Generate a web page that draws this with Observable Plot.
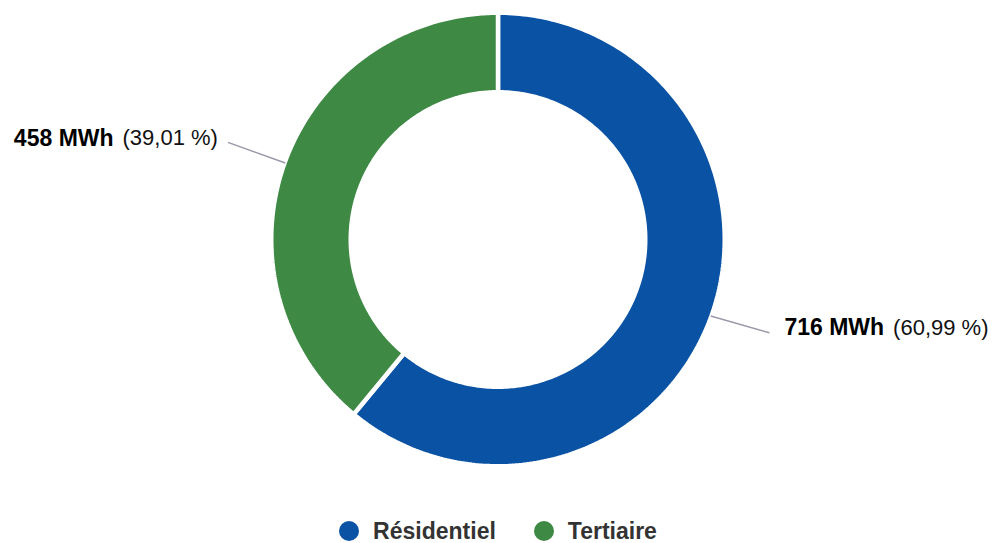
<!DOCTYPE html>
<html>
<head>
<meta charset="utf-8">
<script src="https://cdn.jsdelivr.net/npm/d3@7"></script>
<script src="https://cdn.jsdelivr.net/npm/@observablehq/plot@0.6"></script>
<style>
  html, body { margin: 0; padding: 0; background: #fff; overflow: hidden; }
  body { width: 992px; height: 543px; font-family: "Liberation Sans", Arial, Helvetica, sans-serif; }
  #legend { height: 42px; display: flex; justify-content: center; align-items: center; gap: 38px;
            font-weight: bold; font-size: 23px; line-height: 26px; color: #333; padding-left: 4px; }
  .item { display: flex; align-items: center; gap: 14px; }
  .sw { width: 20px; height: 20px; border-radius: 50%; display: inline-block; }
</style>
</head>
<body>
<div id="chart"></div>
<div id="legend"></div>
<script>
const categories = ["Résidentiel", "Tertiaire"];
const values = [716, 458];
const valueLabels = ["716 MWh", "458 MWh"];
const pctLabels = ["(60,99 %)", "(39,01 %)"];
const colors = ["#0a52a3", "#3e8944"];

// geometry (pixels)
const W = 992, H = 510;
const cx = 497.5, cy = 239, gapW = 4.5;
const R = 224.5 + gapW / 2;              // data radius 1 in px
const rIn = (149.5 - gapW / 2) / R;      // inner radius in data units
const rLine0 = 226 / R, rLine1 = 287 / R;

const arcs = d3.pie().sort(null).value(d => d)(values);

// slice outlines (computed from the pie angles)
const pts = [];
arcs.forEach((a, i) => {
  const N = 240;
  for (let k = 0; k <= N; k++) {
    const t = a.startAngle + (a.endAngle - a.startAngle) * k / N;
    pts.push({key: categories[i], x: Math.sin(t), y: Math.cos(t)});
  }
  for (let k = N; k >= 0; k--) {
    const t = a.startAngle + (a.endAngle - a.startAngle) * k / N;
    pts.push({key: categories[i], x: rIn * Math.sin(t), y: rIn * Math.cos(t)});
  }
});

// labels
const ctx = document.createElement("canvas").getContext("2d");
function tw(s, font) { ctx.font = font; return ctx.measureText(s).width; }
const bSize = 23, rSize = 22;
const boldFont = `bold ${bSize}px 'Liberation Sans'`;
const regFont = `${rSize}px 'Liberation Sans'`;
const labels = arcs.map((a, i) => {
  const m = (a.startAngle + a.endAngle) / 2;
  const right = Math.sin(m) >= 0;
  const m1 = right ? m - 0.014 : m;   // slight bend of the right leader line
  return {
    key: categories[i],
    right,
    x0: rLine0 * Math.sin(m), y0: rLine0 * Math.cos(m),
    x1: rLine1 * Math.sin(m1), y1: rLine1 * Math.cos(m1),
    v: valueLabels[i], p: pctLabels[i],
    vw: tw(valueLabels[i], boldFont), pw: tw(pctLabels[i], regFont)
  };
});
const gapTxt = 9;
const rightL = labels.filter(d => d.right);
const leftL = labels.filter(d => !d.right);

const marks = [
  Plot.line(pts, {x: "x", y: "y", z: "key", fill: "key", stroke: "white",
                  strokeWidth: gapW, strokeLinejoin: "miter", curve: "linear-closed"}),
  Plot.link(labels, {x1: "x0", y1: "y0", x2: "x1", y2: "y1", stroke: "#9a99a9", strokeWidth: 1.5})
];
rightL.forEach(d => {
  marks.push(Plot.text([d], {x: "x1", y: "y1", text: "v", textAnchor: "start", dx: 15, dy: -5,
    fontSize: bSize, fontWeight: "bold", fill: "#000"}));
  marks.push(Plot.text([d], {x: "x1", y: "y1", text: "p", textAnchor: "start", dx: 15 + d.vw + gapTxt, dy: -5,
    fontSize: rSize, fill: "#111"}));
});
leftL.forEach(d => {
  marks.push(Plot.text([d], {x: "x1", y: "y1", text: "p", textAnchor: "end", dx: -10, dy: -4,
    fontSize: rSize, fill: "#111"}));
  marks.push(Plot.text([d], {x: "x1", y: "y1", text: "v", textAnchor: "end", dx: -10 - d.pw - gapTxt, dy: -4,
    fontSize: bSize, fontWeight: "bold", fill: "#000"}));
});

const chart = Plot.plot({
  width: W, height: H, margin: 0,
  x: {domain: [-1, 1], range: [cx - R, cx + R], axis: null},
  y: {domain: [-1, 1], range: [cy + R, cy - R], axis: null},
  color: {domain: categories, range: colors},
  style: {fontFamily: "'Liberation Sans', Arial, Helvetica, sans-serif", background: "#fff", overflow: "visible"},
  marks
});
document.getElementById("chart").appendChild(chart);

const leg = document.getElementById("legend");
categories.forEach((c, i) => {
  const it = document.createElement("div");
  it.className = "item";
  const sw = document.createElement("span");
  sw.className = "sw";
  sw.style.background = colors[i];
  const lb = document.createElement("span");
  lb.textContent = c;
  it.appendChild(sw); it.appendChild(lb);
  leg.appendChild(it);
});
</script>
</body>
</html>
